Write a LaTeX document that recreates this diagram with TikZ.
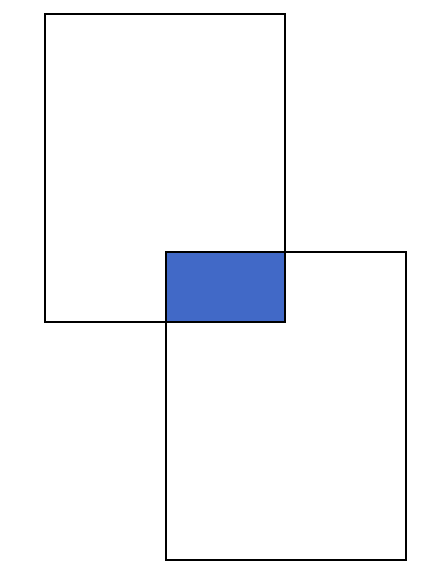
\documentclass[tikz,border=0pt]{standalone}
\usetikzlibrary{calc}
\definecolor{overlapblue}{HTML}{4169C7}

\begin{document}
\begin{tikzpicture}[
      x=0.02cm, y=-0.02cm,
      frame/.style={draw=black, line width=1.1pt},
      overlap/.style={fill=overlapblue}
    ]
      \useasboundingbox (0,0) rectangle (439,580);

      % overlap first, then the two frames over it
      \fill[overlap] (165,252) rectangle (285,322);

      \draw[frame] (45,14) rectangle (285,322);
      \draw[frame] (166,252) rectangle (406,560);
    \end{tikzpicture}
\end{document}
